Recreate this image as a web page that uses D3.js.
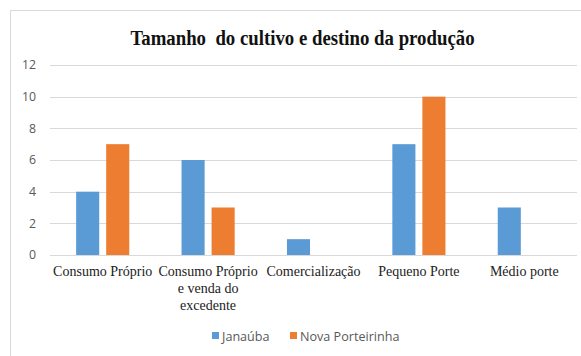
<!DOCTYPE html>
<html>
<head>
<meta charset="utf-8">
<script src="https://cdn.jsdelivr.net/npm/d3@7"></script>
<style>
  html, body { margin: 0; padding: 0; background: #fff; }
  svg { display: block; }
</style>
</head>
<body>
<svg id="chart" width="581" height="356"></svg>
<script>
// Chart data
const categories = [
  ["Consumo Próprio"],
  ["Consumo Próprio", "e venda do", "excedente"],
  ["Comercialização"],
  ["Pequeno Porte"],
  ["Médio porte"]
];
const seriesNames = ["Janaúba", "Nova Porteirinha"];
const janauba = [4, 6, 1, 7, 3];
const novaPorteirinha = [7, 3, 0, 10, 0];
const yTicks = [0, 2, 4, 6, 8, 10, 12];
const title = "Tamanho  do cultivo e destino da produção";

const colors = ["#5B9BD5", "#ED7D31"];
const series = [janauba, novaPorteirinha];

const svg = d3.select("#chart");

// outer chart frame
svg.append("rect")
  .attr("x", 10.5).attr("y", 10.5)
  .attr("width", 600).attr("height", 400)
  .attr("fill", "#fff").attr("stroke", "#D9D9D9");

const plot = { left: 50, right: 577, top: 65, bottom: 255 };

const x = d3.scaleBand()
  .domain(d3.range(categories.length))
  .range([plot.left, plot.right]);

const y = d3.scaleLinear()
  .domain([0, 12])
  .range([plot.bottom, plot.top]);

// title (slightly tall lettering)
svg.append("text")
  .attr("transform", "translate(302.5,45) scale(1,1.15)")
  .attr("text-anchor", "middle")
  .style("white-space", "pre")
  .attr("font-family", "'Liberation Serif', 'Times New Roman', serif")
  .attr("font-weight", "bold")
  .attr("font-size", 18.8)
  .attr("fill", "#111")
  .text(title);

// gridlines
svg.append("g")
  .selectAll("line")
  .data(yTicks)
  .join("line")
  .attr("x1", plot.left).attr("x2", plot.right)
  .attr("y1", d => Math.round(y(d)) + 0.5)
  .attr("y2", d => Math.round(y(d)) + 0.5)
  .attr("stroke", "#D9D9D9").attr("stroke-width", 1);

// y axis labels
const yAxis = d3.axisLeft(y).tickValues(yTicks).tickSize(0).tickPadding(0);
const yg = svg.append("g")
  .attr("transform", `translate(36,0)`)
  .call(yAxis);
yg.select(".domain").remove();
yg.selectAll("text")
  .attr("font-family", "'Open Sans', 'Noto Sans', sans-serif")
  .attr("font-size", 12.3)
  .attr("fill", "#595959");

// bars
const bw = x.bandwidth() * 0.219;
const innerGap = x.bandwidth() * 0.066;
const groupW = bw * 2 + innerGap;

series.forEach((vals, si) => {
  svg.append("g")
    .selectAll("rect")
    .data(vals)
    .join("rect")
    .attr("x", (d, i) => x(i) + (x.bandwidth() - groupW) / 2 + si * (bw + innerGap))
    .attr("y", d => y(d))
    .attr("width", bw)
    .attr("height", d => y(0) - y(d))
    .attr("fill", colors[si]);
});

// category labels
const xl = svg.append("g");
categories.forEach((lines, i) => {
  const t = xl.append("text")
    .attr("text-anchor", "middle")
    .attr("font-family", "'Liberation Serif', 'Times New Roman', serif")
    .attr("font-size", 14)
    .attr("fill", "#222");
  lines.forEach((ln, k) => {
    t.append("tspan")
      .attr("x", x(i) + x.bandwidth() / 2)
      .attr("y", 276 + k * 17)
      .text(ln);
  });
});

// legend
const legend = svg.append("g").attr("transform", "translate(0,336)");
const legendX = [212, 290];
seriesNames.forEach((name, si) => {
  legend.append("rect")
    .attr("x", legendX[si]).attr("y", -4)
    .attr("width", 7).attr("height", 7)
    .attr("fill", colors[si]);
  legend.append("text")
    .attr("x", legendX[si] + 10).attr("y", 4.5)
    .attr("font-family", "'Open Sans', 'Noto Sans', sans-serif")
    .attr("font-size", 12.6)
    .attr("fill", "#595959")
    .text(name);
});
</script>
</body>
</html>
